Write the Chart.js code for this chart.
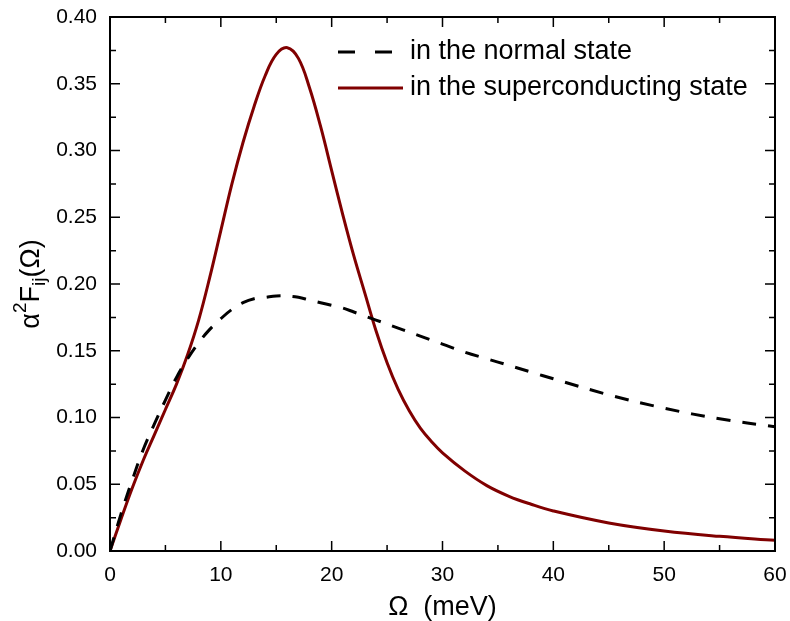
<!DOCTYPE html>
<html>
<head>
<meta charset="utf-8">
<title>alpha2F</title>
<script src="https://cdn.jsdelivr.net/npm/chart.js@4"></script>
<style>
  html, body { margin: 0; padding: 0; background: #fff; }
  #wrap { width: 790px; height: 621px; }
</style>
</head>
<body>
<div id="wrap"><canvas id="a2fChart"></canvas></div>
<script>
// Omega grid (meV) and the two spectral functions
var omega = [0, 1, 2, 3, 4, 5, 6, 7, 8, 9, 10, 11, 12, 13, 14, 15, 16, 17, 18, 19, 20,
    21, 22, 23, 24, 25, 26, 27, 28, 29, 30, 32, 34, 36, 38, 40, 45, 50, 55, 60];
var normalState = [0, 0.028, 0.053, 0.076, 0.095, 0.113, 0.130, 0.144, 0.156, 0.166, 0.174,
    0.181, 0.186, 0.189, 0.190, 0.191, 0.191, 0.190, 0.188, 0.186, 0.184,
    0.182, 0.179, 0.176, 0.173, 0.170, 0.167, 0.164, 0.161, 0.158, 0.155,
    0.149, 0.144, 0.139, 0.134, 0.129, 0.117, 0.107, 0.099, 0.093];
var superState = [0, 0.024, 0.047, 0.068, 0.087, 0.106, 0.125, 0.147, 0.173, 0.205, 0.240,
    0.275, 0.306, 0.333, 0.356, 0.372, 0.377, 0.369, 0.347, 0.318, 0.285,
    0.252, 0.221, 0.193, 0.165, 0.141, 0.121, 0.105, 0.092, 0.082, 0.0735,
    0.060, 0.049, 0.041, 0.035, 0.030, 0.021, 0.015, 0.011, 0.008];

var seriesNames = ["in the normal state", "in the superconducting state"];

// tick values and labels
var xTickValues = [0, 10, 20, 30, 40, 50, 60];
var xTickLabels = ["0", "10", "20", "30", "40", "50", "60"];
var yTickValues = [0, 0.05, 0.10, 0.15, 0.20, 0.25, 0.30, 0.35, 0.40];
var yTickLabels = ["0.00", "0.05", "0.10", "0.15", "0.20", "0.25", "0.30", "0.35", "0.40"];

var FONT = "'Liberation Sans', Arial, sans-serif";

function toPoints(xs, ys) {
    return xs.map(function (x, i) { return { x: x, y: ys[i] }; });
}

// draws the closed frame with inward ticks, the y title and the legend
var framePlugin = {
    id: "framePlugin",
    afterDraw: function (chart) {
        var ctx = chart.ctx;
        var a = chart.chartArea;
        var xs = chart.scales.x;
        var ys = chart.scales.y;
        ctx.save();

        // ticks on all four sides
        ctx.strokeStyle = "#000";
        ctx.lineWidth = 1.5;
        ctx.beginPath();
        function tick(px, py, dx, dy) {
            ctx.moveTo(px, py);
            ctx.lineTo(px + dx, py + dy);
        }
        xTickValues.forEach(function (v, i) {
            var px = xs.getPixelForValue(v);
            tick(px, a.bottom, 0, -10);
            tick(px, a.top, 0, 10);
            if (i < xTickValues.length - 1) {
                var pm = xs.getPixelForValue((v + xTickValues[i + 1]) / 2);
                tick(pm, a.bottom, 0, -6);
                tick(pm, a.top, 0, 6);
            }
        });
        yTickValues.forEach(function (v, i) {
            var py = ys.getPixelForValue(v);
            tick(a.left, py, 10, 0);
            tick(a.right, py, -10, 0);
            if (i < yTickValues.length - 1) {
                var pm = ys.getPixelForValue((v + yTickValues[i + 1]) / 2);
                tick(a.left, pm, 6, 0);
                tick(a.right, pm, -6, 0);
            }
        });
        ctx.stroke();

        ctx.lineWidth = 2;
        ctx.strokeRect(a.left, a.top, a.right - a.left, a.bottom - a.top);

        // y axis title: alpha^2 F_ij (Omega), rotated
        ctx.fillStyle = "#000";
        ctx.translate(32, (a.top + a.bottom) / 2);
        ctx.rotate(-Math.PI / 2);
        var big = "27px " + FONT, small = "19px " + FONT;
        var parts = [
            { t: "\u03b1", f: big, dy: 0 },
            { t: "2", f: small, dy: -11 },
            { t: "F", f: big, dy: 0 },
            { t: "ij", f: small, dy: 8 },
            { t: "(\u03a9)", f: big, dy: 0 }
        ];
        var total = 0;
        parts.forEach(function (p) { ctx.font = p.f; p.w = ctx.measureText(p.t).width; total += p.w; });
        var cx = -total / 2;
        ctx.textBaseline = "middle";
        ctx.textAlign = "left";
        parts.forEach(function (p) {
            ctx.font = p.f;
            ctx.fillText(p.t, cx, p.dy);
            cx += p.w;
        });
        ctx.setTransform(1, 0, 0, 1, 0, 0);

        // legend in the upper right corner
        var rows = [52, 88];
        chart.data.datasets.forEach(function (ds, i) {
            var y = rows[i];
            ctx.beginPath();
            ctx.strokeStyle = ds.borderColor;
            ctx.lineWidth = ds.borderWidth;
            ctx.setLineDash(ds.borderDash && ds.borderDash.length ? [17, 20] : []);
            ctx.moveTo(338, y);
            ctx.lineTo(403, y);
            ctx.stroke();
            ctx.setLineDash([]);
            ctx.font = "27px " + FONT;
            ctx.fillStyle = "#000";
            ctx.textBaseline = "middle";
            ctx.fillText(ds.label, 410, y);
        });
        ctx.restore();
    }
};

function noScalePadding(scale) {
    scale.paddingLeft = 0;
    scale.paddingRight = 0;
    scale.paddingTop = 0;
    scale.paddingBottom = 0;
}

var ctxA2F = document.getElementById("a2fChart").getContext("2d");

var a2fChart = new Chart(ctxA2F, {
    type: "line",
    data: {
        datasets: [
            {
                label: seriesNames[0],
                data: toPoints(omega, normalState),
                borderColor: "#000000",
                borderWidth: 3,
                borderDash: [14, 12],
                pointRadius: 0,
                tension: 0.4,
                fill: false
            },
            {
                label: seriesNames[1],
                data: toPoints(omega, superState),
                borderColor: "#800000",
                borderWidth: 3,
                pointRadius: 0,
                tension: 0.4,
                fill: false
            }
        ]
    },
    options: {
        responsive: true,
        maintainAspectRatio: false,
        animation: false,
        events: [],
        layout: { padding: { left: 0, right: 15, top: 17, bottom: 0 } },
        plugins: {
            legend: { display: false },
            tooltip: { enabled: false }
        },
        scales: {
            x: {
                type: "linear",
                min: 0,
                max: 60,
                grid: { display: false, drawTicks: false },
                border: { display: false },
                afterBuildTicks: function (scale) {
                    scale.ticks = xTickValues.map(function (v) { return { value: v }; });
                },
                afterFit: function (scale) { scale.height = 70; noScalePadding(scale); },
                ticks: {
                    padding: 12,
                    color: "#000",
                    maxRotation: 0,
                    autoSkip: false,
                    font: { family: FONT, size: 21 },
                    callback: function (value) {
                        return xTickLabels[xTickValues.indexOf(value)];
                    }
                },
                title: {
                    display: true,
                    text: "\u03a9  (meV)",
                    color: "#000",
                    font: { family: FONT, size: 27, lineHeight: 1 },
                    padding: { top: 0, bottom: 0 }
                }
            },
            y: {
                type: "linear",
                min: 0,
                max: 0.4,
                grid: { display: false, drawTicks: false },
                border: { display: false },
                afterBuildTicks: function (scale) {
                    scale.ticks = yTickValues.map(function (v) { return { value: v }; });
                },
                afterFit: function (scale) { scale.width = 110; noScalePadding(scale); },
                ticks: {
                    padding: 13,
                    color: "#000",
                    autoSkip: false,
                    font: { family: FONT, size: 21 },
                    callback: function (value) {
                        var i = yTickValues.findIndex(function (v) { return Math.abs(v - value) < 1e-9; });
                        return yTickLabels[i];
                    }
                }
            }
        }
    },
    plugins: [framePlugin]
});
</script>
</body>
</html>
